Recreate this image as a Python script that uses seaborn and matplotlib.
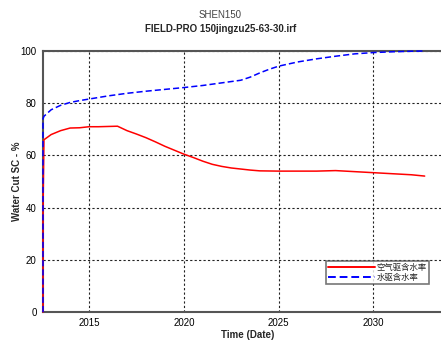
import matplotlib
matplotlib.use("Agg")
import matplotlib.pyplot as plt
from matplotlib.lines import Line2D
import seaborn as sns
import pandas as pd

# Fractional years and water cut (%) for the two displacement cases
air_years = [2012.57, 2012.57, 2012.62, 2013.0, 2013.5, 2014.0, 2014.5, 2015.0, 2015.5,
             2016.0, 2016.5, 2017.0, 2017.5, 2018.0, 2018.5, 2019.0, 2019.5, 2020.0,
             2020.5, 2021.0, 2021.5, 2022.0, 2022.5, 2023.0, 2023.5, 2024.0, 2025.0,
             2026.0, 2027.0, 2028.0, 2029.0, 2030.0, 2031.0, 2032.0, 2032.7]
air_wcut = [0.0, 38.0, 66.0, 68.0, 69.5, 70.5, 70.6, 71.0, 71.0,
            71.1, 71.2, 69.5, 68.2, 66.8, 65.2, 63.5, 62.0, 60.5,
            59.2, 57.8, 56.6, 55.8, 55.2, 54.8, 54.4, 54.1, 54.0,
            54.0, 54.0, 54.2, 53.8, 53.4, 53.0, 52.6, 52.1]

water_years = [2012.57, 2012.57, 2012.62, 2013.0, 2013.5, 2014.0, 2014.5, 2015.0, 2016.0,
               2017.0, 2018.0, 2019.0, 2020.0, 2021.0, 2022.0, 2023.0, 2023.5, 2024.0,
               2024.5, 2025.0, 2025.5, 2026.0, 2027.0, 2028.0, 2029.0, 2030.0, 2031.0,
               2032.0, 2032.7]
water_wcut = [0.0, 74.0, 75.0, 77.5, 79.2, 80.3, 81.0, 81.6, 82.8,
              83.8, 84.6, 85.3, 86.0, 86.8, 87.8, 88.8, 90.0, 91.6,
              93.0, 94.2, 95.0, 95.8, 97.0, 98.0, 98.9, 99.4, 99.7,
              99.9, 100.0]

series_labels = ["空气驱含水率", "水驱含水率"]
year_ticks = [2015, 2020, 2025, 2030]
y_ticks = [0, 20, 40, 60, 80, 100]

df = pd.concat([
    pd.DataFrame({"year": air_years, "wcut": air_wcut, "case": series_labels[0]}),
    pd.DataFrame({"year": water_years, "wcut": water_wcut, "case": series_labels[1]}),
], ignore_index=True)

sns.set_style("white")
plt.rcParams["font.family"] = ["Liberation Sans", "Noto Sans CJK SC", "DejaVu Sans"]

fig = plt.figure(figsize=(4.41, 3.40), dpi=100)
ax = fig.add_axes([0.0975, 0.082, 0.93, 0.768])

sns.lineplot(data=df, x="year", y="wcut", hue="case", style="case",
             palette={series_labels[0]: "#ff0000", series_labels[1]: "#0000ff"},
             dashes={series_labels[0]: "", series_labels[1]: (4, 2)},
             estimator=None, sort=False, linewidth=1.1, ax=ax, legend=False)
for ln in ax.lines:
    ln.set_zorder(3)
    ln.set_clip_on(False)

ax.set_xlim(2012.57, 2034.2)
ax.set_ylim(0, 100)
ax.set_xticks(year_ticks)
ax.set_yticks(y_ticks)
ax.tick_params(axis="both", labelsize=7, length=3, width=0.8, colors="#333333",
               labelcolor="black", pad=1.5)
ax.grid(True, color="#222222", linestyle=(0, (2, 2)), linewidth=0.8)
for side in ["left", "bottom", "top"]:
    ax.spines[side].set_color("#555555")
    ax.spines[side].set_linewidth(1.5)
ax.spines["right"].set_visible(False)

ax.set_xlabel("Time (Date)", fontsize=7, fontweight="bold", labelpad=1)
ax.set_ylabel("Water Cut SC - %", fontsize=7, fontweight="bold", labelpad=-1)

fig.text(0.5, 0.955, "SHEN150", ha="center", va="center", fontsize=7, color="#444444")
fig.text(0.5, 0.915, "FIELD-PRO 150jingzu25-63-30.irf", ha="center", va="center",
         fontsize=7, fontweight="bold")

handles = [Line2D([], [], color="#ff0000", lw=1.4),
           Line2D([], [], color="#0000ff", lw=1.4, linestyle=(0, (4, 2)))]
leg = ax.legend(handles, series_labels, loc="upper left",
                bbox_to_anchor=(326 / 441, 1 - 261 / 340), bbox_transform=fig.transFigure,
                frameon=True, fancybox=False, handlelength=5.6,
                handletextpad=0.2, borderpad=0.25, labelspacing=0.1, borderaxespad=0,
                prop={"family": ["Noto Sans CJK SC", "DejaVu Sans"], "size": 6})
leg.get_frame().set_edgecolor("#555555")
leg.get_frame().set_linewidth(1.2)

fig.savefig("out.png", dpi=100)
